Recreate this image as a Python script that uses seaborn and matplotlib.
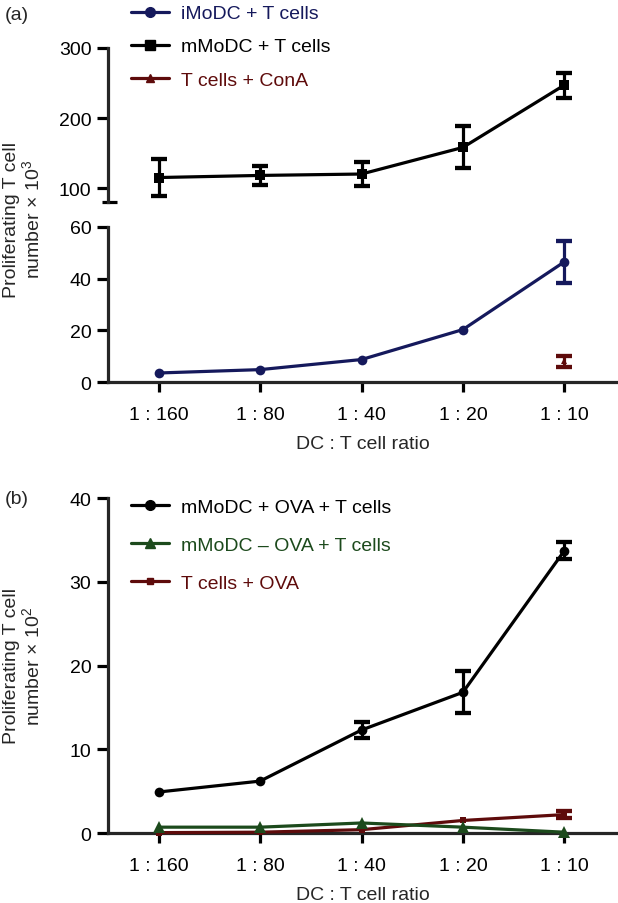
import numpy as np
import pandas as pd
import matplotlib
matplotlib.use("Agg")
import matplotlib.pyplot as plt
import seaborn as sns
from matplotlib.lines import Line2D

# x categories shared by both panels
ratios = ["1 : 160", "1 : 80", "1 : 40", "1 : 20", "1 : 10"]

# panel (a): proliferating T cells x 10^3
imodc_mean = [3.5, 4.8, 8.7, 20.3, 46.5]
imodc_err = [0, 0, 0, 0, 8.0]
mmodc_mean = [115, 118, 120, 158, 247]
mmodc_err = [27, 13, 17, 30, 18]
cona_mean = [np.nan, np.nan, np.nan, np.nan, 8.0]
cona_err = [0, 0, 0, 0, 2.0]

# panel (b): proliferating T cells x 10^2
ova_pos_mean = [4.9, 6.2, 12.3, 16.8, 33.7]
ova_pos_err = [0, 0, 1.0, 2.5, 1.0]
ova_neg_mean = [0.7, 0.7, 1.2, 0.7, 0.1]
ova_neg_err = [0, 0, 0, 0, 0]
tova_mean = [0.05, 0.1, 0.4, 1.5, 2.2]
tova_err = [0, 0, 0, 0, 0.4]

NAVY = "#15195c"
MAROON = "#5e0b0b"
GREEN = "#1c4a1c"
BLACK = "#000000"
LW = 2.3

sns.set_theme(style="ticks")
plt.rcParams["font.family"] = ["Liberation Sans", "DejaVu Sans"]
plt.rcParams["mathtext.fontset"] = "custom"
plt.rcParams["mathtext.rm"] = "Liberation Sans"
FS = 14


def draw_series(ax, mean, err, color, marker, ms):
    df = pd.DataFrame({"x": np.arange(len(ratios)), "y": mean}).dropna()
    sns.lineplot(data=df, x="x", y="y", ax=ax, color=color, linewidth=LW,
                 marker=marker, markersize=ms, markeredgecolor=color,
                 markeredgewidth=0, clip_on=False, zorder=3)
    m = np.array(err) > 0
    xs = np.arange(len(ratios))[m]
    ax.errorbar(xs, np.array(mean)[m], yerr=np.array(err)[m], fmt="none",
                ecolor=color, elinewidth=LW, capsize=6, capthick=LW + 0.8,
                clip_on=False, zorder=4)
    ax.set_xlabel("")
    ax.set_ylabel("")


def style_axis(ax):
    for s in ["left", "bottom"]:
        ax.spines[s].set_linewidth(2.3)
    sns.despine(ax=ax)
    ax.tick_params(axis="both", width=2.3, labelsize=FS, colors="black")
    ax.tick_params(axis="y", length=8, pad=4)
    ax.tick_params(axis="x", length=7, pad=10)
    ax.set_xlim(-0.5, 4.52)


fig = plt.figure(figsize=(6.18, 9.04), dpi=100)

# ---- panel (a), broken y axis ----
ax_top = fig.add_axes([0.1748, 0.7754, 0.8236, 0.1704])
ax_bot = fig.add_axes([0.1748, 0.5763, 0.8236, 0.1715])

draw_series(ax_top, mmodc_mean, mmodc_err, BLACK, "s", 7.5)
draw_series(ax_bot, imodc_mean, imodc_err, NAVY, "o", 7)
draw_series(ax_bot, cona_mean, cona_err, MAROON, "^", 4)

style_axis(ax_top)
ax_top.set_ylim(80, 300)
ax_top.set_yticks([100, 200, 300])
ax_top.spines["bottom"].set_visible(False)
ax_top.tick_params(axis="x", bottom=False, labelbottom=False)
ax_top.plot([-0.012, 0.018], [0, 0], transform=ax_top.transAxes,
            color="black", lw=2.3, clip_on=False, solid_capstyle="butt")

style_axis(ax_bot)
ax_bot.set_ylim(0, 60)
ax_bot.set_yticks([0, 20, 40, 60])
ax_bot.set_xticks(range(len(ratios)))
ax_bot.set_xticklabels(ratios)
ax_bot.set_xlabel("DC : T cell ratio", fontsize=FS, labelpad=9)

fig.text(0.038, 0.757, "Proliferating T cell\nnumber \u00d7 10$^3$",
         rotation=90, ha="center", va="center", fontsize=FS, linespacing=1.05)

handles_a = [
    Line2D([], [], color=NAVY, marker="o", lw=LW, ms=7),
    Line2D([], [], color=BLACK, marker="s", lw=LW, ms=7.5),
    Line2D([], [], color=MAROON, marker="^", lw=LW, ms=6),
]
fig.legend(handles_a, ["iMoDC + T cells", "mMoDC + T cells", "T cells + ConA"],
           loc="upper left", bbox_to_anchor=(0.205, 0.998), frameon=False,
           fontsize=FS, labelcolor="linecolor", handlelength=2.0,
           handletextpad=0.6, labelspacing=0.8, borderaxespad=0, borderpad=0.2)

# ---- panel (b) ----
ax_b = fig.add_axes([0.1748, 0.0774, 0.8236, 0.3706])
draw_series(ax_b, ova_pos_mean, ova_pos_err, BLACK, "o", 7)
draw_series(ax_b, tova_mean, tova_err, MAROON, "s", 4.5)
draw_series(ax_b, ova_neg_mean, ova_neg_err, GREEN, "^", 8)
style_axis(ax_b)
ax_b.set_ylim(0, 40)
ax_b.set_yticks([0, 10, 20, 30, 40])
ax_b.set_xticks(range(len(ratios)))
ax_b.set_xticklabels(ratios)
ax_b.set_xlabel("DC : T cell ratio", fontsize=FS, labelpad=9)

fig.text(0.038, 0.263, "Proliferating T cell\nnumber \u00d7 10$^2$",
         rotation=90, ha="center", va="center", fontsize=FS, linespacing=1.05)

handles_b = [
    Line2D([], [], color=BLACK, marker="o", lw=LW, ms=7),
    Line2D([], [], color=GREEN, marker="^", lw=LW, ms=7),
    Line2D([], [], color=MAROON, marker="s", lw=LW, ms=4.5),
]
ax_b.legend(handles_b, ["mMoDC + OVA + T cells", "mMoDC \u2013 OVA + T cells",
                        "T cells + OVA"],
            loc="upper left", bbox_to_anchor=(0.205, 0.452),
            bbox_transform=fig.transFigure, frameon=False, fontsize=FS,
            labelcolor="linecolor", handlelength=2.0, handletextpad=0.6,
            labelspacing=1.05, borderaxespad=0, borderpad=0.2)

fig.text(0.008, 0.983, "(a)", fontsize=FS, va="center")
fig.text(0.008, 0.447, "(b)", fontsize=FS, va="center")

fig.savefig("out.png", dpi=100)
